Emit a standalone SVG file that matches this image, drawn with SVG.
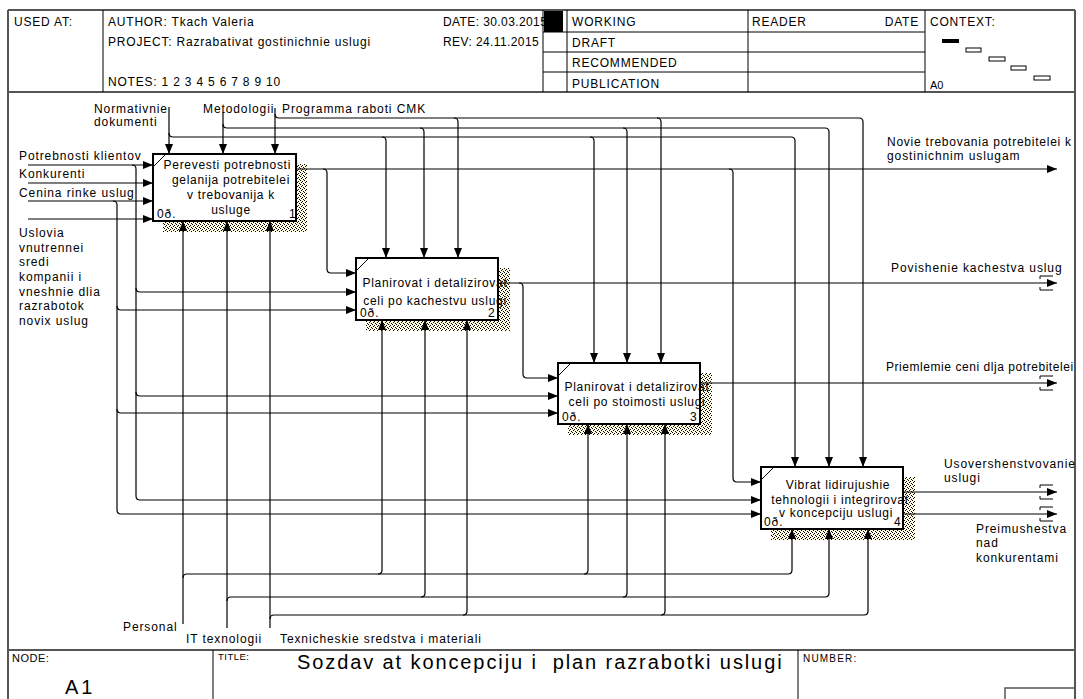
<svg xmlns="http://www.w3.org/2000/svg" width="1083" height="699" viewBox="0 0 1083 699">
<defs>
<style>
text{font-family:"Liberation Sans",Arial,sans-serif;fill:#000}
.lb{font-size:12px;letter-spacing:0.9px}
.bx{font-size:12px;letter-spacing:0.7px;text-anchor:middle}
.hd{font-size:12px;letter-spacing:0.8px}
.sm{font-size:12px;letter-spacing:0.4px}
.fr{fill:none;stroke:#555;stroke-width:2}
.in{fill:none;stroke:#000;stroke-width:1}
.c{fill:none;stroke:#000;stroke-width:1.2;}
.a{marker-end:url(#ah)}
.box{fill:#fff;stroke:#000;stroke-width:2}
.sh{fill:url(#hatch)}
</style>
<marker id="ah" viewBox="0 0 10 8" refX="10" refY="4" markerWidth="10" markerHeight="8" markerUnits="userSpaceOnUse" orient="auto"><path d="M0,0 L10,4 L0,8 Z" fill="#000"/></marker>
<pattern id="hatch" width="4" height="4" patternUnits="userSpaceOnUse">
<rect width="4" height="4" fill="#fffbe2"/>
<rect x="0" y="0" width="1" height="1" fill="#000"/>
<rect x="2" y="1" width="1" height="1" fill="#000"/>
<rect x="1" y="2" width="1" height="1" fill="#000"/>
<rect x="3" y="3" width="1" height="1" fill="#000"/>
</pattern>
</defs>
<rect width="1083" height="699" fill="#fff"/>

<g id="frame">
<path class="fr" d="M8,10 H1075 M8,10 V699 M1075,10 V699 M8,92 H1075 M8,650 H1075"/>
<path class="in" d="M103,10 V92 M543,10 V92 M567,10 V92 M748,10 V92 M925,10 V92 M543,32 H925 M543,52 H925 M543,72 H925 M213,650 V699 M798,650 V699"/>
<rect x="544" y="11" width="19" height="21" fill="#000"/>
<rect x="1005" y="688" width="70" height="14" fill="none" stroke="#555" stroke-width="1.5"/>
<rect x="942" y="39" width="17" height="4" fill="#000"/>
<rect x="966" y="48" width="15" height="4" fill="#fff" stroke="#000" stroke-width="1"/>
<rect x="989" y="57" width="16" height="4" fill="#fff" stroke="#000" stroke-width="1"/>
<rect x="1011" y="66" width="15" height="4" fill="#fff" stroke="#000" stroke-width="1"/>
<rect x="1034" y="76" width="16" height="4" fill="#fff" stroke="#000" stroke-width="1"/>
<text class="hd" x="14" y="26">USED AT:</text>
<text class="hd" x="108" y="26">AUTHOR: Tkach Valeria</text>
<text class="hd" x="108" y="46">PROJECT: Razrabativat gostinichnie uslugi</text>
<text class="hd" x="108" y="86">NOTES: 1 2 3 4 5 6 7 8 9 10</text>
<text class="sm" x="443" y="26">DATE: 30.03.2015</text>
<text class="sm" x="443" y="46">REV:  24.11.2015</text>
<text class="hd" x="572" y="26">WORKING</text>
<text class="hd" x="572" y="47">DRAFT</text>
<text class="hd" x="572" y="67">RECOMMENDED</text>
<text class="hd" x="572" y="88">PUBLICATION</text>
<text class="hd" x="752" y="26">READER</text>
<text class="hd" x="919" y="26" text-anchor="end">DATE</text>
<text class="hd" x="930" y="26">CONTEXT:</text>
<text x="930" y="89" style="font-size:11px">A0</text>
<text x="12" y="662" style="font-size:11px;letter-spacing:0.5px">NODE:</text>
<text x="65" y="694" style="font-size:20px;letter-spacing:3px">A1</text>
<text x="218" y="660" style="font-size:9.5px;letter-spacing:0.5px">TITLE:</text>
<text x="297" y="669" style="font-size:20px;letter-spacing:1.9px;white-space:pre" xml:space="preserve">Sozdav at koncepciju i  plan razrabotki uslugi</text>
<text x="803" y="662" style="font-size:10px;letter-spacing:1.2px">NUMBER:</text>
</g>

<g id="node1">
<path class="sh" d="M296,164 H307 V232 H163 V221 H296 Z"/>
<rect class="box" x="153" y="154" width="143" height="67"/>
<path class="in" d="M153,167 L166,154"/>
<text class="bx" x="231" y="169">Perevesti potrebnosti i</text>
<text class="bx" x="231" y="184">gelanija potrebitelei</text>
<text class="bx" x="231" y="199">v trebovanija k</text>
<text class="bx" x="231" y="214">usluge</text>
<text class="lb" x="157" y="218">0ð.</text>
<text class="lb" x="289" y="218">1</text>
</g>

<g id="node2">
<path class="sh" d="M498,268 H510 V331 H366 V320 H498 Z"/>
<rect class="box" x="356" y="258" width="142" height="62"/>
<path class="in" d="M356,271 L369,258"/>
<text class="bx" x="435" y="287">Planirovat i detalizirovat</text>
<text class="bx" x="435" y="305">celi po kachestvu uslugi</text>
<text class="lb" x="360" y="317">0ð.</text>
<text class="lb" x="488" y="317">2</text>
</g>

<g id="node3">
<path class="sh" d="M700,373 H712 V435 H568 V424 H700 Z"/>
<rect class="box" x="558" y="363" width="142" height="61"/>
<path class="in" d="M558,376 L571,363"/>
<text class="bx" x="637" y="391">Planirovat i detalizirovat</text>
<text class="bx" x="637" y="406">celi po stoimosti uslugi</text>
<text class="lb" x="562" y="421">0ð.</text>
<text class="lb" x="690" y="421">3</text>
</g>

<g id="node4">
<path class="sh" d="M903,477 H915 V540 H771 V529 H903 Z"/>
<rect class="box" x="761" y="467" width="142" height="62"/>
<path class="in" d="M761,480 L774,467"/>
<text class="bx" x="838" y="489">Vibrat lidirujushie</text>
<text class="bx" x="840" y="504">tehnologii i integrirovat</text>
<text class="bx" x="836" y="517">v koncepciju uslugi</text>
<text class="lb" x="764" y="526">0ð.</text>
<text class="lb" x="894" y="526">4</text>
</g>

<g id="connectors">
<path class="c a" d="M28,165 H153"/>
<path class="c a" d="M28,183 H153"/>
<path class="c a" d="M28,201 H153"/>
<path class="c a" d="M28,219 H153"/>
<path class="c a" d="M132,165 Q136,165 136,169 V496 Q136,500 140,500 H761"/>
<path class="c a" d="M136,288 Q136,292 140,292 H356"/>
<path class="c a" d="M136,392 Q136,396 140,396 H558"/>
<path class="c a" d="M113,201 Q117,201 117,205 V510 Q117,514 121,514 H761"/>
<path class="c a" d="M117,306 Q117,310 121,310 H356"/>
<path class="c a" d="M117,409 Q117,413 121,413 H558"/>

<path class="c a" d="M297,169 H1057"/>
<path class="c a" d="M323,169 Q327,169 327,173 V269 Q327,273 331,273 H356"/>
<path class="c a" d="M729,169 Q733,169 733,173 V478 Q733,482 737,482 H761"/>
<path class="c a" d="M499,283 H1057"/>
<path class="c a" d="M519,283 Q523,283 523,287 V374 Q523,378 527,378 H558"/>
<path class="c a" d="M701,383 H1057"/>
<path class="c a" d="M904,492 H1057"/>
<path class="c a" d="M904,514 H1057"/>

<path class="c a" d="M169,107 V154"/>
<path class="c a" d="M169,133 Q169,137 173,137 H791 Q795,137 795,141 V467"/>
<path class="c a" d="M382,137 Q386,137 386,141 V258"/>
<path class="c a" d="M590,137 Q594,137 594,141 V363"/>
<path class="c a" d="M223,112 V154"/>
<path class="c a" d="M223,124 Q223,128 227,128 H825 Q829,128 829,132 V467"/>
<path class="c a" d="M420,128 Q424,128 424,132 V258"/>
<path class="c a" d="M623,128 Q627,128 627,132 V363"/>
<path class="c a" d="M275,108 V154"/>
<path class="c a" d="M275,114 Q275,118 279,118 H859 Q863,118 863,122 V467"/>
<path class="c a" d="M454,118 Q458,118 458,122 V258"/>
<path class="c a" d="M657,118 Q661,118 661,122 V363"/>

<path class="c a" d="M183,624 V221"/>
<path class="c a" d="M183,578 Q183,574 187,574 H788 Q792,574 792,570 V529"/>
<path class="c a" d="M378,574 Q382,574 382,570 V320"/>
<path class="c a" d="M584,574 Q588,574 588,570 V424"/>
<path class="c a" d="M227,628 V221"/>
<path class="c a" d="M227,601 Q227,597 231,597 H825 Q829,597 829,593 V529"/>
<path class="c a" d="M421,597 Q425,597 425,593 V320"/>
<path class="c a" d="M623,597 Q627,597 627,593 V424"/>
<path class="c a" d="M270,628 V221"/>
<path class="c a" d="M270,619 Q270,615 274,615 H864 Q868,615 868,611 V529"/>
<path class="c a" d="M463,615 Q467,615 467,611 V320"/>
<path class="c a" d="M661,615 Q665,615 665,611 V424"/>

<path class="in" d="M1053,276 H1040 V279 M1040,287 V290 H1053"/>
<path class="in" d="M1053,376 H1040 V379 M1040,387 V390 H1053"/>
<path class="in" d="M1053,485 H1040 V488 M1040,496 V499 H1053"/>
<path class="in" d="M1053,507 H1040 V510 M1040,518 V521 H1053"/>

<text class="lb" x="94" y="113">Normativnie</text>
<text class="lb" x="94" y="126">dokumenti</text>
<text class="lb" x="203" y="113">Metodologii</text>
<text class="lb" x="282" y="113">Programma raboti CMK</text>
<text class="lb" x="19" y="160">Potrebnosti klientov</text>
<text class="lb" x="19" y="178">Konkurenti</text>
<text class="lb" x="19" y="197">Cenina rinke uslug</text>
<text class="lb" x="19" y="237">Uslovia</text>
<text class="lb" x="19" y="252">vnutrennei</text>
<text class="lb" x="19" y="266">sredi</text>
<text class="lb" x="19" y="281">kompanii i</text>
<text class="lb" x="19" y="296">vneshnie dlia</text>
<text class="lb" x="19" y="310">razrabotok</text>
<text class="lb" x="19" y="325">novix uslug</text>
<text class="lb" x="887" y="146" textLength="185" lengthAdjust="spacing">Novie trebovania potrebitelei k</text>
<text class="lb" x="887" y="160">gostinichnim uslugam</text>
<text class="lb" x="891" y="272">Povishenie kachestva uslug</text>
<text class="lb" x="886" y="371" textLength="188" lengthAdjust="spacing">Priemlemie ceni dlja potrebitelei</text>
<text class="lb" x="944" y="468">Usovershenstvovanie</text>
<text class="lb" x="944" y="482">uslugi</text>
<text class="lb" x="976" y="533">Preimushestva</text>
<text class="lb" x="976" y="547">nad</text>
<text class="lb" x="976" y="562">konkurentami</text>
<text class="lb" x="123" y="631">Personal</text>
<text class="lb" x="186" y="643">IT texnologii</text>
<text class="lb" x="280" y="643">Texnicheskie sredstva i materiali</text>
</g>
</svg>
